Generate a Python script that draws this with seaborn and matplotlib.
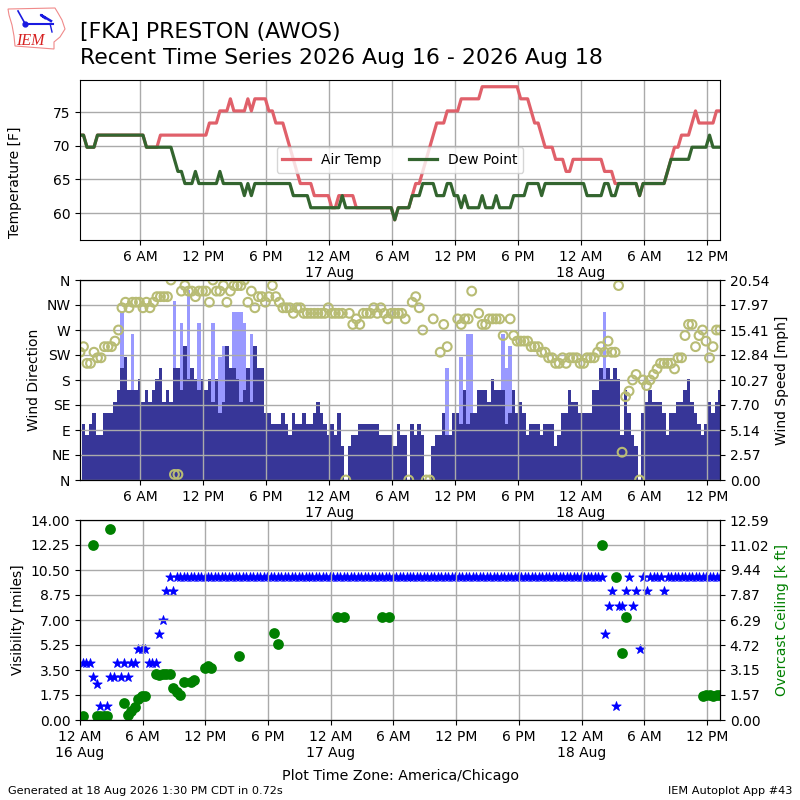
import numpy as np
import pandas as pd
import matplotlib
matplotlib.use("Agg")
import matplotlib.pyplot as plt
import seaborn as sns

# Observations every 20 minutes from 00:15 on 16 Aug, hours since midnight
hours = 0.25 + np.arange(184) / 3

# Run-length pairs (value in F, number of observations)
temp_vals = [71.6,69.8,71.6,69.8,71.6,73.4,75.2,77,75.2,77,75.2,77,75.2,73.4,71.6,69.8,68,66.2,64.4,62.6,60.8,62.6,60.8,59,60.8,62.6,64.4,66.2,68,69.8,71.6,73.4,75.2,77,78.8,77,75.2,73.4,71.6,69.8,68,66.2,68,66.2,64.4,62.6,64.4,66.2,68,69.8,71.6,73.4,75.2,73.4,75.2]
temp_runs = [2,3,14,4,14,3,3,1,4,1,1,4,2,3,1,1,1,1,4,5,2,5,11,1,4,1,2,1,1,1,1,3,4,6,11,3,1,2,1,3,3,2,9,3,7,1,7,1,1,2,3,1,1,5,2]
dew_vals = [71.6,69.8,71.6,69.8,68,66.2,64.4,66.2,64.4,66.2,64.4,62.6,64.4,62.6,64.4,62.6,60.8,62.6,60.8,59,60.8,62.6,64.4,62.6,64.4,62.6,60.8,62.6,60.8,62.6,60.8,62.6,60.8,62.6,64.4,62.6,64.4,62.6,64.4,62.6,64.4,62.6,64.4,66.2,68,69.8,71.6,69.8]
dew_runs = [2,3,14,8,1,2,3,1,6,1,6,1,1,1,11,5,9,1,14,1,4,3,4,3,2,2,1,1,4,1,3,1,4,4,4,1,12,5,2,2,6,1,7,1,6,5,1,3]

# Sustained wind, knots
speed_kt = [0,5,4,5,6,4,4,6,6,6,
            7,8,10,11,8,8,8,9,7,8,
            7,8,9,10,7,8,7,10,10,8,
            12,9,10,9,8,9,8,9,7,9,
            6,7,12,10,10,9,7,8,10,7,
            12,10,10,6,6,5,5,5,6,5,
            4,6,5,5,6,5,5,6,7,6,
            5,4,5,4,6,3,0,3,4,4,
            5,5,5,5,5,5,4,4,4,4,
            3,5,4,4,0,5,4,5,4,0,
            0,3,4,4,6,4,4,6,6,5,
            8,5,6,6,8,8,8,7,9,8,
            8,8,5,6,8,6,7,6,4,5,
            5,5,4,5,5,5,3,4,6,6,
            8,7,7,6,6,6,6,8,8,10,
            9,10,9,10,9,4,8,6,4,3,
            0,6,7,8,7,7,7,6,4,6,
            6,7,7,8,9,7,6,5,4,5,
            7,6,7,8]
gust_obs = [12,15,27,29,31,34,38,40,41,44,45,46,47,49,105,109,111,112,121,122,123,150]
gust_kt = [15,13,16,14,17,14,14,11,12,15,15,15,14,13,10,11,13,13,13,10,12,15]

n = np.nan
direction = [230,240,210,210,230,220,220,240,240,240,
             250,270,310,320,310,320,320,320,310,320,
             310,320,330,330,330,330,360,10,10,340,
             350,340,340,330,340,340,340,320,360,340,
             340,350,320,340,350,350,350,360,320,340,
             310,330,330,320,330,350,330,320,310,310,
             310,300,310,310,300,300,300,300,300,300,
             300,310,300,300,300,300,0,300,280,290,
             280,300,300,300,310,300,310,300,290,300,
             300,300,300,290,0,320,330,310,270,0,
             0,290,n,230,280,240,n,n,290,280,
             290,290,340,n,300,280,280,290,290,290,
             290,260,n,290,260,250,250,250,250,240,
             240,240,230,230,220,220,210,210,220,210,
             220,220,220,210,210,220,220,220,230,240,
             230,250,230,230,350,50,150,160,180,190,
             0,180,170,180,190,200,210,210,210,210,
             200,220,220,260,280,280,240,260,270,250,
             220,240,270,270]

visibility = [4,4,4,3,2.5,1,0.25,1,3,3,
              4,3,4,3,4,4,5,5,5,4,
              4,4,6,7,9,10,9] + [10] * 123 + [6,8,9,1,8,8,9,10,8,9,5,10,9,10,10,10,10,9] + [10] * 16
ceiling_obs = [0,3,4,5,6,7,8,12,13,14,15,16,17,18,21,22,23,24,25,26,27,28,29,31,32,35,36,37,45,55,56,73,75,86,88,149,153,155,156,178,179,180,181,182,183]
ceiling_kft = [0.23,11.0,0.23,0.23,0.23,0.23,12.02,1.07,0.29,0.59,0.82,1.32,1.53,1.53,2.92,2.81,2.92,2.92,2.92,2.01,1.76,1.57,2.41,2.41,2.52,3.27,3.38,3.27,4.05,5.48,4.78,6.5,6.5,6.5,6.5,11.0,9.0,4.22,6.48,1.53,1.6,1.6,1.53,1.6,1.6]

top_ticks = [6, 12, 18, 24, 30, 36, 42, 48, 54, 60]
top_labels = ["6 AM", "12 PM", "6 PM", "12 AM\n17 Aug", "6 AM", "12 PM", "6 PM", "12 AM\n18 Aug", "6 AM", "12 PM"]
bot_ticks = [0] + top_ticks
bot_labels = ["12 AM\n16 Aug"] + top_labels
dir_ticks = [0, 45, 90, 135, 180, 225, 270, 315, 360]
dir_labels = ["N", "NE", "E", "SE", "S", "SW", "W", "NW", "N"]
mph_ticks = [0, 2.5675, 5.135, 7.7025, 10.27, 12.8375, 15.405, 17.9725, 20.54]
mph_labels = ["0.00", "2.57", "5.14", "7.70", "10.27", "12.84", "15.41", "17.97", "20.54"]
vis_ticks = [0, 1.75, 3.5, 5.25, 7, 8.75, 10.5, 12.25, 14]
vis_labels = ["0.00", "1.75", "3.50", "5.25", "7.00", "8.75", "10.50", "12.25", "14.00"]
ceil_ticks = [0, 1.574, 3.148, 4.721, 6.295, 7.869, 9.443, 11.016, 12.59]
ceil_labels = ["0.00", "1.57", "3.15", "4.72", "6.29", "7.87", "9.44", "11.02", "12.59"]

TEMP_C = "#e0606a"
DEW_C = "#33652f"
BAR_C = "#373698"
GUST_C = "#9999ff"
DIR_C = "#b8bc74"
GRID_C = "#aaaaaa"
GRID_W = 1.0

temp = np.repeat(temp_vals, temp_runs)
dew = np.repeat(dew_vals, dew_runs)
obs = pd.DataFrame({"hour": hours, "temp": temp, "dew": dew,
                    "speed": np.array(speed_kt) * 1.15078,
                    "dir": direction, "vis": visibility})
gust = pd.DataFrame({"hour": hours[gust_obs], "gust": np.array(gust_kt) * 1.15078})
ceil = pd.DataFrame({"hour": hours[ceiling_obs], "ceil": ceiling_kft})

fig = plt.figure(figsize=(8, 8), dpi=100)

# Temperature
ax1 = fig.add_axes([0.1, 0.70, 0.8, 0.20])
ax1.grid(True, color=GRID_C, lw=GRID_W)
sns.lineplot(data=obs, x="hour", y="temp", color=TEMP_C, lw=2.3, label="Air Temp", errorbar=None, ax=ax1)
sns.lineplot(data=obs, x="hour", y="dew", color=DEW_C, lw=2.3, label="Dew Point", errorbar=None, ax=ax1)
ax1.set_xlim(0.25, 61.25)
ax1.set_ylim(56, 79.8)
ax1.set_yticks([60, 65, 70, 75])
ax1.set_xticks(top_ticks, top_labels)
ax1.set_xlabel("")
ax1.set_ylabel("Temperature [F]")
ax1.yaxis.set_label_coords(-0.0905, 0.3625)
ax1.legend(loc="center", ncol=2)

# Wind
ax2 = fig.add_axes([0.1, 0.40, 0.8, 0.25])
ax2.grid(True, color=GRID_C, lw=GRID_W)
ax2.bar(gust["hour"], gust["gust"], width=1 / 3, color=GUST_C, lw=0)
ax2.bar(obs["hour"], obs["speed"], width=1 / 3, color=BAR_C, lw=0)
ax2.set_xlim(0.25, 61.25)
ax2.set_ylim(0, 20.54)
ax2.set_xticks(top_ticks, top_labels)
ax2r = ax2.twinx()
ax2.set_yticks(mph_ticks, mph_labels)
ax2.yaxis.tick_right()
ax2.yaxis.set_label_position("right")
ax2.set_ylabel("Wind Speed [mph]")
sns.scatterplot(data=obs, x="hour", y="dir", s=40, marker="o", ax=ax2r)
pts = ax2r.collections[-1]
pts.set_facecolor("none")
pts.set_edgecolor(DIR_C)
pts.set_linewidth(1.5)
ax2r.set_ylim(0, 360)
ax2r.set_yticks(dir_ticks, dir_labels)
ax2r.yaxis.tick_left()
ax2r.yaxis.set_label_position("left")
ax2r.set_ylabel("Wind Direction")
ax2r.set_xlabel("")

# Visibility and ceiling
ax3 = fig.add_axes([0.1, 0.10, 0.8, 0.25])
ax3.grid(True, color=GRID_C, lw=GRID_W)
sns.scatterplot(data=obs, x="hour", y="vis", marker="*", color="blue", edgecolor="blue", linewidth=0.6, s=50, ax=ax3)
ax3.set_xlim(0, 61.25)
ax3.set_ylim(0, 14)
ax3.set_yticks(vis_ticks, vis_labels)
ax3.set_xticks(bot_ticks, bot_labels)
ax3.set_ylabel("Visibility [miles]")
ax3.set_xlabel("Plot Time Zone: America/Chicago", fontsize=10.3, labelpad=6.5)
ax3r = ax3.twinx()
sns.scatterplot(data=ceil, x="hour", y="ceil", marker="o", color="green", edgecolor="green", linewidth=0, s=60, ax=ax3r)
ax3r.set_ylim(0, 12.59)
ax3r.set_yticks(ceil_ticks, ceil_labels)
ax3r.set_ylabel("Overcast Ceiling [k ft]", color="green")
ax3r.set_xlabel("")

# Titles and footer
fig.text(0.1, 0.953, "[FKA] PRESTON (AWOS)", fontsize=15.8, va="baseline")
fig.text(0.1, 0.92, "Recent Time Series 2026 Aug 16 - 2026 Aug 18", fontsize=15.8, va="baseline")
fig.text(0.01, 0.0075, "Generated at 18 Aug 2026 1:30 PM CDT in 0.72s", fontsize=8.15, va="baseline")
fig.text(0.99, 0.0075, "IEM Autoplot App #43", fontsize=8.15, ha="right", va="baseline")

# Logo
logo = fig.add_axes([0, 0, 1, 1], facecolor="none")
logo.set_xlim(0, 800)
logo.set_ylim(800, 0)
logo.axis("off")
logo.fill([8, 55, 58, 62, 65, 60, 54, 54, 15, 14, 12, 9], [9, 8, 13, 20, 29, 37, 42, 49, 46, 36, 25, 15],
          facecolor="white", edgecolor="#f08a8a", lw=0.8)
logo.plot([25, 53], [23.5, 23.5], color="#1a1ae0", lw=1.5)
logo.plot([25, 18], [23.5, 11], color="#1a1ae0", lw=1.2)
logo.plot([51, 41, 45], [21, 15, 18], color="#1a1ae0", lw=1.8)
logo.plot([50, 52], [23.5, 32], color="#1a1ae0", lw=1)
logo.plot([25], [23.5], "o", color="#1a1ae0", ms=3.5)
logo.text(30, 45, "IEM", color="#d62020", fontsize=11.5, style="italic", family="Liberation Serif", ha="center", va="baseline")

fig.savefig("out.png", dpi=100)
